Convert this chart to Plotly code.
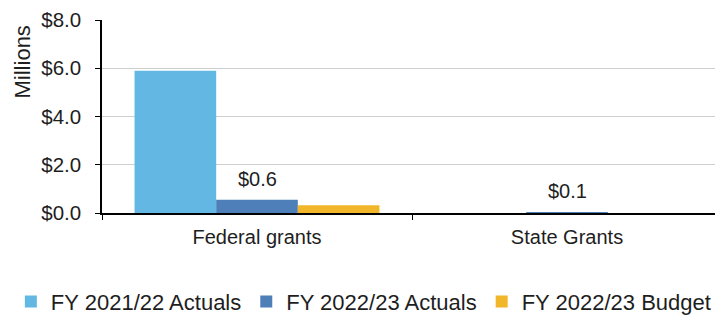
import plotly.graph_objects as go

categories = ["Federal grants", "State Grants"]
series_names = ["FY 2021/22 Actuals", "FY 2022/23 Actuals", "FY 2022/23 Budget"]
fy2122_actuals = [5.9, 0.0]
fy2223_actuals = [0.55, 0.03]
fy2223_budget = [0.32, 0.0]
label_texts = ["$0.6", "$0.1"]
tick_vals = [0, 2, 4, 6, 8]
tick_text = ["$0.0", "$2.0", "$4.0", "$6.0", "$8.0"]

colors = ["#62B8E2", "#4E7FB9", "#F2B62B"]
FONT = "Liberation Sans, Arial, sans-serif"
TXT = "#1e1e1e"

fig = go.Figure()
for name, vals, c in zip(series_names, [fy2122_actuals, fy2223_actuals, fy2223_budget], colors):
    fig.add_trace(go.Bar(x=categories, y=vals, name=name, marker=dict(color=c, line=dict(width=0))))

for cat, val, txt in zip(categories, fy2223_actuals, label_texts):
    fig.add_annotation(x=cat, y=val, text=txt, showarrow=False, yanchor="bottom", yshift=8,
                       font=dict(size=20, color=TXT, family=FONT))

fig.add_annotation(x=-0.129, xref="paper", y=0.78, yref="paper", text="Millions",
                   textangle=-90, showarrow=False, xanchor="center", yanchor="middle",
                   font=dict(size=22, color=TXT, family=FONT))

# page body adds an 8px offset, so the figure is 8px smaller than the window
fig.update_layout(
    width=715, height=312,
    margin=dict(l=94, r=1, t=12, b=107, autoexpand=False),
    paper_bgcolor="white", plot_bgcolor="white",
    barmode="group", bargap=0.21, bargroupgap=0,
    font=dict(family=FONT, size=20, color=TXT),
    showlegend=True,
    legend=dict(orientation="h", x=-0.147, xanchor="left", xref="paper", y=-0.46, yanchor="middle",
                yref="paper", font=dict(size=22, color=TXT), traceorder="normal",
                itemwidth=30),
)
fig.update_xaxes(range=[-0.5, 1.5], showline=True, linecolor="black", linewidth=1.5,
                 ticks="outside", tickson="boundaries", ticklen=5, tickcolor="black",
                 ticklabelstandoff=5,
                 tickfont=dict(size=20, color=TXT))
fig.update_yaxes(range=[0, 8], tickvals=tick_vals, ticktext=tick_text, showline=True,
                 linecolor="black", linewidth=1.5, ticks="outside", ticklen=5, tickcolor="black",
                 ticklabelstandoff=10, ticklabeloverflow="allow",
                 showgrid=True, gridcolor="#cfcfcf", gridwidth=1, zeroline=False,
                 tickfont=dict(size=20.5, color=TXT))

fig.write_html("out.html")
